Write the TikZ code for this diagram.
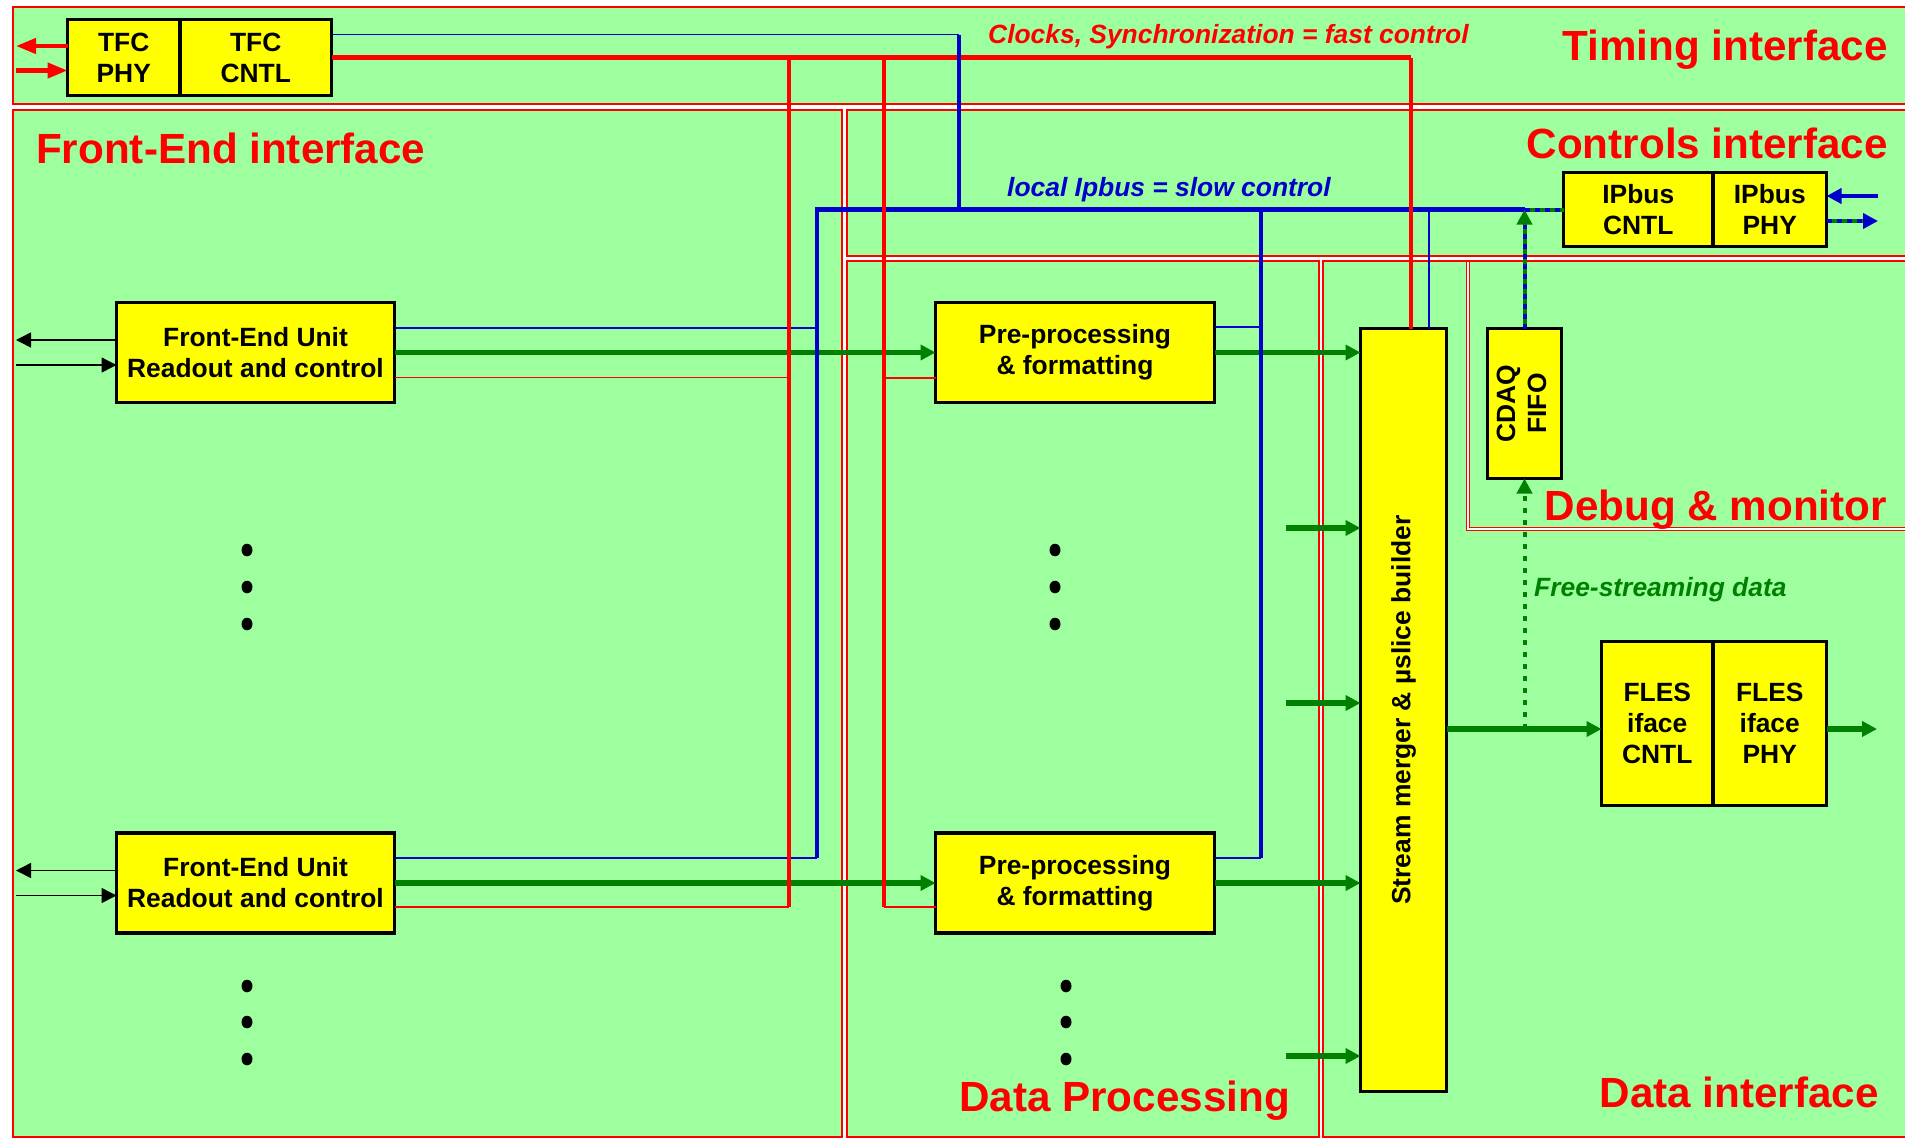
\documentclass[tikz,border=0pt]{standalone}
\usepackage{fontspec}
\setmainfont{Liberation Sans}
\usepackage{tikz}
\usetikzlibrary{calc,arrows.meta,positioning}
\definecolor{bgc}{HTML}{9EFF9E}
\definecolor{boxc}{HTML}{FFFF00}
\definecolor{redc}{HTML}{FF0000}
\definecolor{bluc}{HTML}{0000CC}
\definecolor{grnc}{HTML}{008000}
\tikzset{
  rg/.style={draw=redc,line width=1.3pt,fill=bgc},
  blk/.style={draw=black,line width=3.3pt,fill=boxc,inner sep=0pt,outer sep=0pt,align=center,font=\fontsize{26.4}{31}\selectfont\bfseries},
  ttl/.style={inner sep=0pt,text=redc,font=\fontsize{42.2}{48}\selectfont\bfseries},
  lbl/.style={inner sep=0pt,font=\fontsize{26.4}{31}\selectfont\bfseries\itshape},
  hd/.style={-{Triangle[length=15pt,width=15pt]}},
  dat/.style={hd,line width=5.3pt,grnc},
  fst/.style={line width=4.3pt,redc},
  fsn/.style={line width=1.5pt,redc},
  slw/.style={line width=4.3pt,bluc},
  sln/.style={line width=1.5pt,bluc},
  sig/.style={hd,line width=1.5pt,black},
  mxd/.style={line width=4pt,bluc,dash pattern=on 5pt off 5pt},
  fsd/.style={line width=4pt,grnc,dash pattern=on 5pt off 7pt}
}
\begin{document}
\begin{tikzpicture}[x=1pt,y=-1pt]
\useasboundingbox (0,0) rectangle (1905,1138);
\clip (0,0) rectangle (1905,1138);
\fill[white] (0,0) rectangle (1905,1138);
\draw[rg] (13,7) rectangle (1915,104);
\draw[rg] (13,110) rectangle (842,1137);
\draw[rg] (847,110) rectangle (1915,256);
\draw[rg] (847,261) rectangle (1319,1137);
\draw[rg] (1323,261) rectangle (1915,1137);
\draw[rg,fill=none,double=white,double distance=2pt] (1468,262) |- (1915,529);

\node[ttl,anchor=base east] (ttim) at (1888,60) {Timing interface};
\node[ttl,anchor=base west] (tfe) at (36,163) {Front-End interface};
\node[ttl,anchor=base east] (tctl) at (1888,158) {Controls interface};
\node[ttl,anchor=base east] (tdbg) at (1887,520) {Debug \& monitor};
\node[ttl,anchor=base west] (tdp) at (959,1111) {Data Processing};
\node[ttl,anchor=base east] (tdi) at (1879,1107) {Data interface};
\node[lbl,text=redc,anchor=base west] (lfast) at (988,43) {Clocks, Synchronization = fast control};
\node[lbl,text=bluc,anchor=base west] (lslow) at (1007,196) {local Ipbus = slow control};
\node[lbl,text=grnc,anchor=base west] (lfree) at (1534,596) {Free-streaming data};

\node[blk,minimum width=112.5,minimum height=76] (tfcphy) at (123.75,57.5) {TFC\\PHY};
\node[blk,minimum width=151.5,minimum height=76,right=0pt of tfcphy] (tfccntl) {TFC\\CNTL};
\node[blk,minimum width=149.5,minimum height=74] (ipcntl) at (1638.25,209.5) {IPbus\\CNTL};
\node[blk,minimum width=113.5,minimum height=74,right=0pt of ipcntl] (ipphy) {IPbus\\PHY};
\node[blk,minimum width=278,minimum height=100] (fe1) at (255.5,352.5) {Front-End Unit\\Readout and control};
\node[blk,minimum width=278,minimum height=100] (fe2) at (255.5,883) {Front-End Unit\\Readout and control};
\node[blk,minimum width=279,minimum height=100] (pp1) at (1075,352.5) {Pre-processing\\\& formatting};
\node[blk,minimum width=279,minimum height=100] (pp2) at (1075,883) {Pre-processing\\\& formatting};
\node[blk,minimum width=86,minimum height=763] (smerge) at (1403.5,710) {\rotatebox{90}{Stream merger \& µslice builder}};
\node[blk,minimum width=74,minimum height=150] (cdaq) at (1524.5,403.5) {\rotatebox{90}{\begin{tabular}{@{}c@{}}CDAQ\\FIFO\end{tabular}}};
\node[blk,minimum width=111.5,minimum height=164] (flescntl) at (1657.25,723.5) {FLES\\iface\\CNTL};
\node[blk,minimum width=113.5,minimum height=164,right=0pt of flescntl] (flesphy) {FLES\\iface\\PHY};

\coordinate (fbA) at (789,57.5); \coordinate (fbB) at (884,57.5);
\coordinate (smR) at ($(smerge.north)+(7.5,0)$); \coordinate (smB) at ($(smerge.north)+(25.5,0)$);
\coordinate (busL) at (817,209.5); \coordinate (busM) at (1261,209.5); \coordinate (busJ) at (1524.5,209.5);
\coordinate (tfcB) at ($(tfccntl.east)+(0,-23)$); \coordinate (tfcV) at (959,34.5);
\coordinate (fsj) at (1524.5,729); \coordinate (flout) at (1877,729);
\coordinate (fe1b) at ($(fe1.east)+(0,-24.5)$); \coordinate (fe2b) at ($(fe2.east)+(0,-25)$);
\coordinate (fe1r) at ($(fe1.east)+(0,25)$); \coordinate (fe2r) at ($(fe2.east)+(0,24)$);
\coordinate (pp1b) at ($(pp1.east)+(0,-25.5)$); \coordinate (pp2b) at ($(pp2.east)+(0,-25)$);
\coordinate (pp1r) at ($(pp1.west)+(0,25.5)$); \coordinate (pp2r) at ($(pp2.west)+(0,24)$);
\coordinate (tfcL) at (16,46); \coordinate (tfcR) at (16,70.5);
\coordinate (ipin) at (1878,196); \coordinate (ipout) at (1878,221);

\foreach \x/\y in {247/550,247/587,247/624,247/986,247/1022,247/1059,1055/550,1055/587,1055/624,1066/986,1066/1022,1066/1059}
  \fill (\x,\y) ellipse [x radius=5.5pt,y radius=6.3pt];

\draw[dat] (fe1.east) -- (pp1.west);
\draw[dat] (fe2.east) -- (pp2.west);
\draw[dat] (pp1.east) -- (pp1.east -| smerge.west);
\draw[dat] (pp2.east) -- (pp2.east -| smerge.west);
\foreach \y [count=\i] in {528,703,1056} {
  \coordinate (in\i) at (1286,\y);
  \draw[dat] (in\i) -- (in\i -| smerge.west);
}
\draw[dat] (fsj -| smerge.east) -- (fsj -| flescntl.west);
\draw[dat] (flout -| flesphy.east) -- (flout);
\draw[fsd,-{Triangle[length=15pt,width=15pt]}] (fsj) -- (cdaq.south);

\draw[fst] (tfccntl.east) -- (tfccntl.east -| smR);
\draw[sln] (tfcB) -- (tfcV);
\draw[slw] (tfcV) -- (tfcV |- busL);
\draw[sln] (fe1b) -- (fe1b -| busL);
\draw[sln] (fe2b) -- (fe2b -| busL);
\draw[slw] (fe2b -| busL) |- (busJ);
\draw[sln] (pp1b) -- (pp1b -| busM);
\draw[sln] (pp2b) -- (pp2b -| busM);
\draw[slw] (pp2b -| busM) -- (busM);
\draw[sln] (busL -| smB) -- (smB);
\draw[line width=4pt,grnc,hd] (cdaq.north) -- (busJ);
\draw[mxd] (cdaq.north) -- ($(busJ)+(0,15)$);
\draw[line width=4pt,grnc] (busJ) -- (ipcntl.west);
\draw[mxd] (busJ) -- (ipcntl.west);
\draw[slw,hd] (ipin) -- (ipin -| ipphy.east);
\draw[line width=4pt,grnc] (ipout -| ipphy.east) -- ($(ipout)+(-14,0)$);
\draw[mxd,hd] (ipout -| ipphy.east) -- (ipout);

\draw[fst] (tfccntl.east -| smR) -- (smR);
\draw[fst] (fbA) -- (fbA |- fe2r);
\draw[fsn] (fe1r) -- (fe1r -| fbA);
\draw[fsn] (fe2r) -- (fe2r -| fbA);
\draw[fst] (fbB) -- (fbB |- pp2r);
\draw[fsn] (pp1r -| fbB) -- (pp1r);
\draw[fsn] (pp2r -| fbB) -- (pp2r);
\draw[fst,-{Triangle[length=20pt,width=15pt]}] (tfcL -| tfcphy.west) -- (tfcL);
\draw[fst,-{Triangle[length=20pt,width=15pt]}] (tfcR) -- (tfcR -| tfcphy.west);

\foreach \n in {fe1,fe2} {
  \coordinate (\n o) at ($(\n.west)+(-100.5,-12.5)$);
  \coordinate (\n i) at ($(\n.west)+(-100.5,12.5)$);
  \draw[sig] (\n o -| \n.west) -- (\n o);
  \draw[sig] (\n i) -- (\n i -| \n.west);
}
\end{tikzpicture}
\end{document}
